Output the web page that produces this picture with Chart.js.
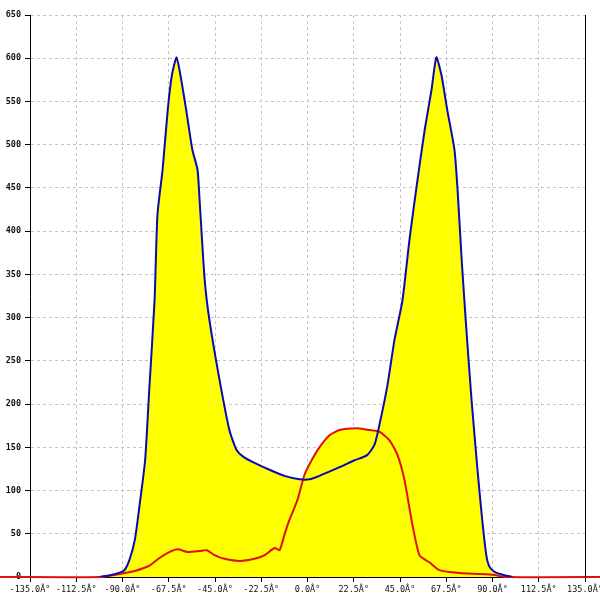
<!DOCTYPE html>
<html>
<head>
<meta charset="utf-8">
<script src="https://cdn.jsdelivr.net/npm/chart.js@4.4.0/dist/chart.umd.min.js"></script>
<style>
  html, body { margin: 0; padding: 0; background: #fff; overflow: hidden; }
  #wrap { width: 640px; height: 600px; }
</style>
</head>
<body>
<div id="wrap"><canvas id="chart" width="640" height="600"></canvas></div>
<script>
// angle (deg) and value pairs
const blueAngles = [-101, -96, -91.4, -89, -86.6, -84, -81.7, -79, -77, -74.4, -73, -70.5, -68, -66, -63.7, -61.8, -59, -56, -53.5, -52.5, -50, -47.7, -42.8, -38, -34.5, -30.6, -25.8, -18.5, -11.2, -3.9, 1, 5.8, 15.6, 22.9, 29, 32.6, 35, 38.9, 42.3, 46.2, 49.6, 53.5, 57, 60.3, 62.7, 65.2, 68, 71.5, 73, 75, 77.3, 79.8, 82.7, 85, 87, 88.5, 91, 95.8, 99.7];
const blueValues = [0, 2, 5, 8, 20, 43, 83, 135, 216, 320, 419, 471, 540, 580, 601, 580, 540, 494, 471, 436, 343, 297, 228, 170, 147, 138, 132, 124, 117, 113, 113, 117, 127, 135, 141, 153, 176, 222, 274, 320, 390, 459, 517, 563, 601, 580, 540, 494, 448, 367, 286, 205, 124, 66, 25, 12, 6, 2, 0];

const redAngles = [-150, -101, -91.4, -84, -77, -72, -67, -63.2, -58.4, -52.5, -49, -45, -40.4, -33, -25.8, -21, -16, -13.6, -11.2, -8.8, -4.9, -1.5, 2, 5.8, 10.7, 15.6, 23.8, 30, 35, 39.9, 43.8, 47.2, 50.6, 54.5, 59.3, 64.2, 74, 83.7, 91, 95.8, 150];
const redValues = [0, 0, 3.5, 7, 13, 22, 29, 32, 29, 30, 31, 25, 21, 18.5, 21, 25, 33.5, 31, 49, 66, 89, 118, 135, 150, 164, 170, 172, 170, 168, 158, 141, 112, 66, 25, 17, 8, 4.6, 3.5, 2.3, 0, 0];

const xTicks = [-135, -112.5, -90, -67.5, -45, -22.5, 0, 22.5, 45, 67.5, 90, 112.5, 135];
const xTickLabels = ["-135.0Â°", "-112.5Â°", "-90.0Â°", "-67.5Â°", "-45.0Â°", "-22.5Â°", "0.0Â°", "22.5Â°", "45.0Â°", "67.5Â°", "90.0Â°", "112.5Â°", "135.0Â°"];
const yTicks = [0, 50, 100, 150, 200, 250, 300, 350, 400, 450, 500, 550, 600, 650];

const toPoints = (xs, ys) => xs.map((x, i) => ({ x, y: ys[i] }));

// solid frame line on the right side of the plot
const rightFrame = {
  id: "rightFrame",
  afterDraw(chart) {
    const { ctx, chartArea } = chart;
    ctx.save();
    ctx.strokeStyle = "#000";
    ctx.lineWidth = 1;
    ctx.beginPath();
    ctx.moveTo(Math.round(chartArea.right) + 0.5, chartArea.top);
    ctx.lineTo(Math.round(chartArea.right) + 0.5, chartArea.bottom);
    ctx.stroke();
    ctx.restore();
  }
};

const gridOpts = {
  color: "#c4c4c4",
  tickLength: 5,
  tickColor: "#000",
  tickBorderDash: []
};

new Chart(document.getElementById("chart"), {
  type: "line",
  data: {
    datasets: [
      {
        data: toPoints(blueAngles, blueValues),
        borderColor: "#0a0ab4",
        backgroundColor: "#ffff00",
        borderWidth: 2,
        pointRadius: 0,
        fill: "origin",
        tension: 0.2
      },
      {
        data: toPoints(redAngles, redValues),
        borderColor: "#e01010",
        backgroundColor: "#ffff00",
        borderWidth: 2,
        pointRadius: 0,
        fill: "origin",
        clip: false,
        tension: 0.2
      }
    ]
  },
  options: {
    responsive: false,
    animation: false,
    layout: { padding: { top: 15, right: 55, left: 0, bottom: 0 } },
    plugins: {
      legend: { display: false },
      tooltip: { enabled: false },
      filler: { drawTime: "beforeDatasetsDraw" }
    },
    scales: {
      x: {
        type: "linear",
        min: -135,
        max: 135,
        afterBuildTicks: s => { s.ticks = xTicks.map(v => ({ value: v })); },
        afterFit: s => { s.height = 23; },
        ticks: {
          autoSkip: false,
          maxRotation: 0,
          padding: 3,
          color: "#111",
          font: { family: "DejaVu Sans Mono", size: 8.5 },
          callback: (v, i) => xTickLabels[i]
        },
        grid: gridOpts,
        border: { display: true, color: "#000", width: 1, dash: [3, 3] }
      },
      y: {
        min: 0,
        max: 650,
        afterBuildTicks: s => { s.ticks = yTicks.map(v => ({ value: v })); },
        afterFit: s => { s.width = 30; },
        ticks: {
          padding: 4,
          color: "#111",
          font: { family: "DejaVu Sans Mono", size: 8.5, weight: "bold" }
        },
        grid: gridOpts,
        border: { display: true, color: "#000", width: 1, dash: [3, 3] }
      }
    }
  },
  plugins: [rightFrame]
});
</script>
</body>
</html>
